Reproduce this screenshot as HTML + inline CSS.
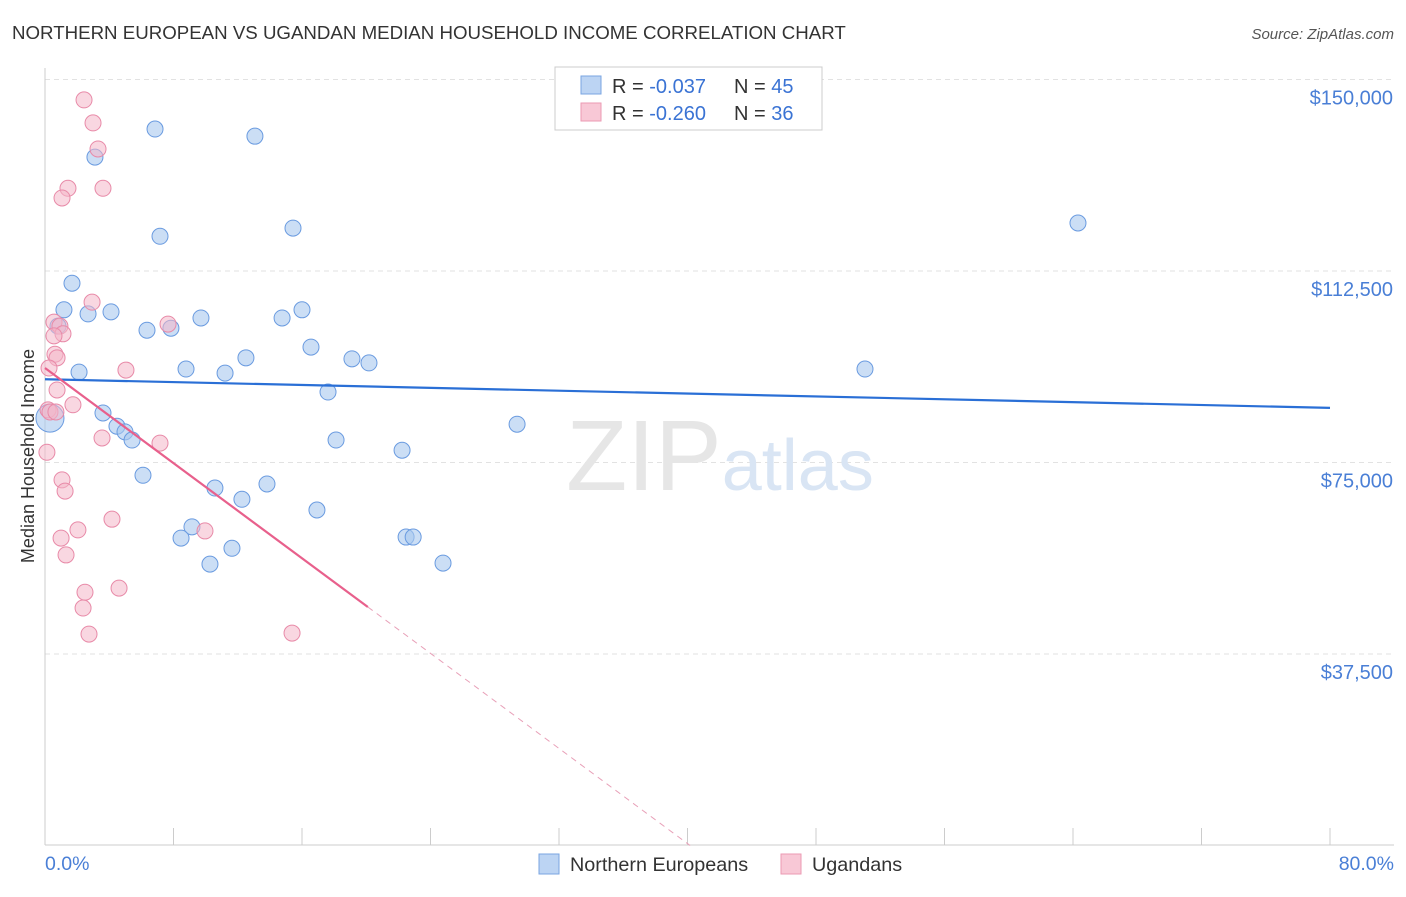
<!DOCTYPE html>
<html><head><meta charset="utf-8">
<style>
body{margin:0;background:#fff;font-family:"Liberation Sans",sans-serif;}
svg text{font-family:"Liberation Sans",sans-serif;}
</style></head>
<body>
<svg id="chart" width="1406" height="892" xmlns="http://www.w3.org/2000/svg">
<text x="12" y="39" font-size="18.7" fill="#333">NORTHERN EUROPEAN VS UGANDAN MEDIAN HOUSEHOLD INCOME CORRELATION CHART</text>
<text x="1394" y="39" font-size="15" fill="#555" text-anchor="end" font-style="italic">Source: ZipAtlas.com</text>
<g id="grid"></g>
<g id="axes"></g>
<text x="720" y="490" font-size="100" text-anchor="middle" fill="#e6e6e6" font-family="Liberation Serif">ZIP<tspan fill="#d9e5f4" font-family="Liberation Sans" font-size="72">atlas</tspan></text>
<g id="pts"></g>
<g id="lines"></g>
<text transform="translate(34,456) rotate(-90)" font-size="18" fill="#333" text-anchor="middle">Median Household Income</text>
<text x="45" y="870" font-size="19.5" fill="#4a7fd6">0.0%</text>
<text x="1394" y="870" font-size="19.5" fill="#4a7fd6" text-anchor="end">80.0%</text>
<g>
<rect x="555" y="67" width="267" height="63" fill="#fff" stroke="#ccc"/>
<rect x="581" y="76" width="20" height="18" fill="#bcd4f3" stroke="#7aa5e2"/>
<rect x="581" y="103" width="20" height="18" fill="#f8c8d6" stroke="#eb9ab3"/>
<text x="612" y="93" font-size="20" fill="#333">R = <tspan fill="#3a73d4">-0.037</tspan></text>
<text x="734" y="93" font-size="20" fill="#333">N = <tspan fill="#3a73d4">45</tspan></text>
<text x="612" y="120" font-size="20" fill="#333">R = <tspan fill="#3a73d4">-0.260</tspan></text>
<text x="734" y="120" font-size="20" fill="#333">N = <tspan fill="#3a73d4">36</tspan></text>
</g>
<g>
<rect x="539" y="854" width="20" height="20" fill="#bcd4f3" stroke="#7aa5e2"/>
<text x="570" y="871" font-size="19.8" fill="#333">Northern Europeans</text>
<rect x="781" y="854" width="20" height="20" fill="#f8c8d6" stroke="#eb9ab3"/>
<text x="812" y="871" font-size="19.8" fill="#333">Ugandans</text>
</g>
</svg>
<script>
const yTicks=[37500,75000,112500,150000];
const yTickLabels=["$37,500","$75,000","$112,500","$150,000"];
const xTicks=[0,8,16,24,32,40,48,56,64,72,80];
const blueX=[6.85,13.07,3.11,7.16,15.44,64.31,1.68,1.18,2.68,4.11,16.0,9.71,14.76,0.81,6.35,7.84,16.56,12.51,19.11,20.17,2.12,8.78,11.21,51.05,17.62,3.61,4.48,4.98,5.42,29.39,18.12,22.23,0.31,6.10,10.58,13.82,12.26,16.93,9.15,8.47,11.64,10.27,22.48,22.92,24.78];
const blueY=[140300,138900,134800,119300,120900,121900,110100,104900,104100,104500,104900,103300,103300,101700,100900,101300,97600,95500,95300,94500,92700,93300,92500,93300,88800,84700,82100,81000,79400,82500,79400,77400,83700,72500,70000,70800,67800,65700,62400,60200,58200,55100,60400,60400,55300];
const pinkX=[2.43,2.99,3.30,1.43,3.61,1.06,2.93,0.56,7.66,0.93,1.12,0.56,0.62,0.75,5.04,0.25,0.75,1.74,0.19,0.31,0.68,3.55,7.16,0.12,1.06,1.25,4.17,2.05,9.96,1.0,1.31,4.61,2.49,2.37,2.74,15.38];
const pinkY=[146000,141500,136400,128700,128700,126800,106400,102500,102100,101700,100200,99800,96200,95500,93100,93500,89200,86300,85300,84900,84900,79800,78800,77000,71600,69400,63900,61800,61600,60200,56900,50400,49600,46500,41400,41600];
const blueTrend=[91300,85700];
const pinkTrend=[93500,-2328];
const X=v=>45+v/80*1285, Y=v=>845.5-v/37500*191.5;
const NS="http://www.w3.org/2000/svg";
function mk(tag,at,parent){const e=document.createElementNS(NS,tag);for(const k in at)e.setAttribute(k,at[k]);document.getElementById(parent).appendChild(e);return e;}
yTicks.forEach((t,i)=>{
 const g=mk('line',{x1:45,x2:1394,y1:Y(t),y2:Y(t),stroke:'#e2e2e2','stroke-dasharray':'5,4'},'grid');
 
 
 const tx=mk('text',{x:1393,y:Y(t)+25,'font-size':20,fill:'#4a7fd6','text-anchor':'end'},'grid');
 tx.textContent=yTickLabels[i];
 
 
});
const ax=mk('line',{x1:45,x2:45,y1:68,y2:845,stroke:'#ccc'},'axes');


const bx=mk('line',{x1:45,x2:1394,y1:845,y2:845,stroke:'#ccc'},'axes');


xTicks.forEach(t=>{
 const l=mk('line',{x1:X(t),x2:X(t),y1:828,y2:845,stroke:'#ccc'},'axes');
 
 
});
blueX.forEach((x,i)=>{
 const c=mk('circle',{cx:X(x),cy:Y(blueY[i]),r:i==32?14:8,fill:'#a9c8ef','fill-opacity':0.6,stroke:'#6a9be0','stroke-width':1},'pts');
 
 
});
pinkX.forEach((x,i)=>{
 const c=mk('circle',{cx:X(x),cy:Y(pinkY[i]),r:8,fill:'#f4b7c9','fill-opacity':0.55,stroke:'#e88aa8','stroke-width':1},'pts');
 
 
});
const bl=mk('line',{x1:X(0),y1:Y(blueTrend[0]),x2:X(80),y2:Y(blueTrend[1]),stroke:'#2a6fd6','stroke-width':2.2},'lines');


const pe=20.1, pz=-pinkTrend[0]/pinkTrend[1];
const pl=mk('line',{x1:X(0),y1:Y(pinkTrend[0]),x2:X(pe),y2:Y(pinkTrend[0]+pinkTrend[1]*pe),stroke:'#e8608c','stroke-width':2.2},'lines');


const pd=mk('line',{x1:X(pe),y1:Y(pinkTrend[0]+pinkTrend[1]*pe),x2:X(pz),y2:Y(0),stroke:'#e8a0b8','stroke-width':1,'stroke-dasharray':'6,5'},'lines');


</script>
</body></html>
